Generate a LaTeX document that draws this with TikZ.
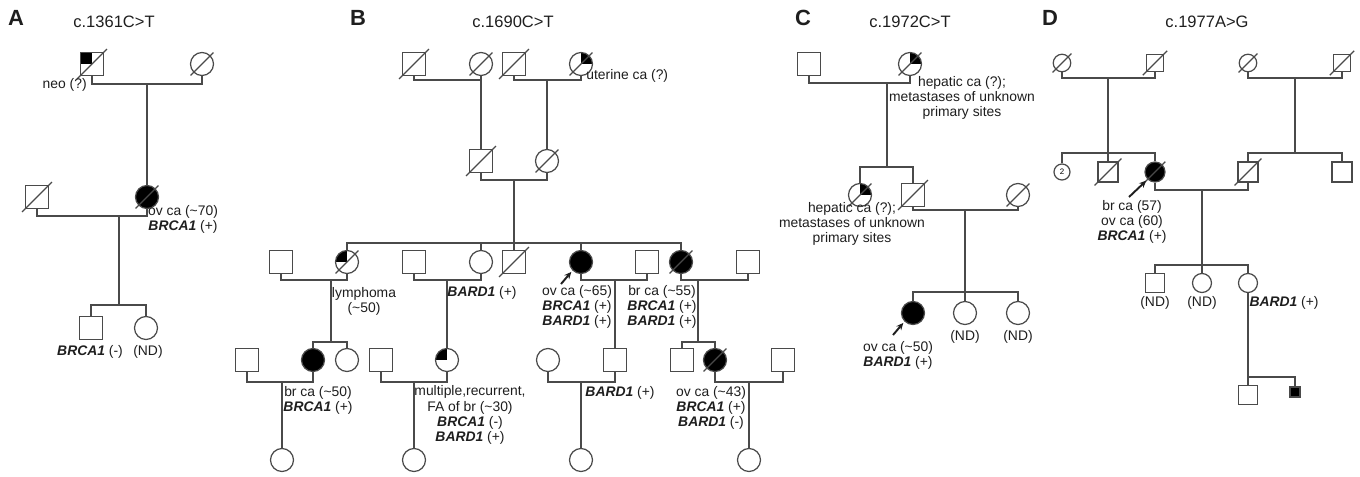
\documentclass[tikz,border=0pt]{standalone}
\usepackage{fontspec}
\setmainfont{Liberation Sans}
\usepackage{tikz}
\usetikzlibrary{arrows.meta}
\definecolor{pedgray}{HTML}{4A4A4A}
\definecolor{pedtext}{HTML}{1E1E1E}
\newcommand{\genesym}[1]{\textbf{\textit{#1}}}
\tikzset{
  person/.style={
    draw=pedgray,
    line width=0.7pt,
    fill=white,
    inner sep=0pt,
    minimum size=0.46cm
  },
  male/.style={person, rectangle},
  female/.style={person, circle},
  affected/.style={fill=black},
  small/.style={minimum size=0.35cm},
  mid/.style={minimum size=0.4cm},
  deceased/.style={
    append after command={(\tikzlastnode.south west) edge[pedslash] (\tikzlastnode.north east)}
  },
  pedslash/.style={
    draw=pedgray,
    line width=0.7pt,
    shorten <=-2.3pt,
    shorten >=-2.3pt
  },
  quadnw/.style={
    path picture={\fill[black] (path picture bounding box.center) rectangle (path picture bounding box.north west);}
  },
  quadne/.style={
    path picture={\fill[black] (path picture bounding box.center) rectangle (path picture bounding box.north east);}
  },
  pedline/.style={
    draw=pedgray,
    line width=0.7pt
  },
  probandarrow/.style={
    -{Stealth[length=4pt,width=3.6pt]},
    line width=1.1pt,
    draw=pedtext,
    shorten >=1pt
  },
  note/.style={
    font=\fontsize{7.9}{8.6}\selectfont,
    text=pedtext,
    inner sep=0pt,
    align=center
  },
  mutation/.style={
    font=\fontsize{9.4}{10}\selectfont,
    text=pedtext,
    inner sep=0pt
  },
  panel/.style={
    font=\fontsize{12.5}{14}\selectfont\bfseries,
    text=pedtext,
    inner sep=0pt
  }
}

\begin{document}
\begin{tikzpicture}[x=0.02cm, y=-0.02cm]
  \useasboundingbox (0,0) rectangle (1360,477);

  % panel A
  \node[panel] (pA) at (16,18) {A};
  \node[mutation] (mutA) at (114,22) {c.1361C>T};
  \node[male, deceased, quadnw] (a1) at (92,64) {};
  \node[female, deceased] (a2) at (202,64) {};
  \node[male, deceased] (a3) at (37,197) {};
  \node[female, affected, deceased] (a4) at (147,197) {};
  \node[male] (a5) at (91,328) {};
  \node[female] (a6) at (146,328) {};
  \coordinate (mA1) at (147,84);
  \coordinate (mA2) at (119,216);
  \coordinate (sA1) at (119,305);
  \draw[pedline] (a1.south) |- (mA1) -| (a2.south);
  \draw[pedline] (mA1) -- (a4.north);
  \draw[pedline] (a3.south) |- (mA2) -| (a4.south);
  \draw[pedline] (mA2) -- (sA1);
  \draw[pedline] (a5.north) |- (sA1) -| (a6.north);
  \node[note, anchor=east] (ta1) at (87,85) {neo (?)};
  \node[note] (ta2) at (183,219) {ov ca (\textasciitilde70)\\\genesym{BRCA1} (+)};
  \node[note] (ta3) at (90,352) {\genesym{BRCA1} (-)};
  \node[note] (ta4) at (148,352) {(ND)};

  % panel B
  \node[panel] (pB) at (358,18) {B};
  \node[mutation] (mutB) at (513,22) {c.1690C>T};
  \node[male, deceased] (b1) at (414,64) {};
  \node[female, deceased] (b2) at (481,64) {};
  \node[male, deceased] (b3) at (514,64) {};
  \node[female, deceased, quadne] (b4) at (581,64) {};
  \node[male, deceased] (b5) at (481,161) {};
  \node[female, deceased] (b6) at (547,161) {};
  \node[male] (b7) at (281,262) {};
  \node[female, deceased, quadnw] (b8) at (347,262) {};
  \node[male] (b9) at (414,262) {};
  \node[female] (b10) at (481,262) {};
  \node[male, deceased] (b11) at (514,262) {};
  \node[female, affected] (b12) at (581,262) {};
  \node[male] (b13) at (647,262) {};
  \node[female, affected, deceased] (b14) at (681,262) {};
  \node[male] (b15) at (748,262) {};
  \node[male] (b16) at (247,360) {};
  \node[female, affected] (b17) at (313,360) {};
  \node[female] (b18) at (347,360) {};
  \node[male] (b19) at (381,360) {};
  \node[female, quadnw] (b20) at (447,360) {};
  \node[female] (b21) at (548,360) {};
  \node[male] (b22) at (615,360) {};
  \node[male] (b23) at (682,360) {};
  \node[female, affected, deceased] (b24) at (715,360) {};
  \node[male] (b25) at (783,360) {};
  \node[female] (b26) at (282,460) {};
  \node[female] (b27) at (414,460) {};
  \node[female] (b28) at (581,460) {};
  \node[female] (b29) at (749,460) {};
  \coordinate (mB1) at (481,80);
  \coordinate (mB2) at (547,80);
  \coordinate (mB3) at (514,180);
  \coordinate (sB1) at (514,243);
  \coordinate (mB4) at (331,280);
  \coordinate (mB5) at (447,280);
  \coordinate (mB6) at (615,280);
  \coordinate (mB7) at (698,280);
  \coordinate (sB2) at (331,342);
  \coordinate (sB3) at (698,342);
  \coordinate (mB8) at (282,382);
  \coordinate (mB9) at (414,382);
  \coordinate (mB10) at (581,382);
  \coordinate (mB11) at (749,382);
  \draw[pedline] (b1.south) |- (mB1) -| (b2.south);
  \draw[pedline] (mB1) -- (b5.north);
  \draw[pedline] (b3.south) |- (mB2) -| (b4.south);
  \draw[pedline] (mB2) -- (b6.north);
  \draw[pedline] (b5.south) |- (mB3) -| (b6.south);
  \draw[pedline] (mB3) -- (sB1);
  \draw[pedline] (b8.north) |- (sB1) -| (b14.north);
  \draw[pedline] (sB1 -| b10.north) -- (b10.north);
  \draw[pedline] (sB1) -- (b11.north);
  \draw[pedline] (sB1 -| b12.north) -- (b12.north);
  \draw[pedline] (b7.south) |- (mB4) -| (b8.south);
  \draw[pedline] (b9.south) |- (mB5) -| (b10.south);
  \draw[pedline] (b12.south) |- (mB6) -| (b13.south);
  \draw[pedline] (b14.south) |- (mB7) -| (b15.south);
  \draw[pedline] (mB4) -- (sB2);
  \draw[pedline] (b17.north) |- (sB2) -| (b18.north);
  \draw[pedline] (mB5) -- (b20.north);
  \draw[pedline] (mB6) -- (b22.north);
  \draw[pedline] (mB7) -- (sB3);
  \draw[pedline] (b23.north) |- (sB3) -| (b24.north);
  \draw[pedline] (b16.south) |- (mB8) -| (b17.south);
  \draw[pedline] (b19.south) |- (mB9) -| (b20.south);
  \draw[pedline] (b21.south) |- (mB10) -| (b22.south);
  \draw[pedline] (b24.south) |- (mB11) -| (b25.south);
  \draw[pedline] (mB8) -- (b26.north);
  \draw[pedline] (mB9) -- (b27.north);
  \draw[pedline] (mB10) -- (b28.north);
  \draw[pedline] (mB11) -- (b29.north);
  \coordinate (arrB) at (561,284);
  \draw[probandarrow] (arrB) -- (b12.south west);
  \node[note, anchor=west] (tb1) at (586,76) {uterine ca (?)};
  \node[note] (tb2) at (364,301) {lymphoma\\(\textasciitilde50)};
  \node[note] (tb3) at (482,293) {\genesym{BARD1} (+)};
  \node[note] (tb4) at (577,307) {ov ca (\textasciitilde65)\\\genesym{BRCA1} (+)\\\genesym{BARD1} (+)};
  \node[note] (tb5) at (662,307) {br ca (\textasciitilde55)\\\genesym{BRCA1} (+)\\\genesym{BARD1} (+)};
  \node[note] (tb6) at (318,400) {br ca (\textasciitilde50)\\\genesym{BRCA1} (+)};
  \node[note] (tb7) at (470,415) {multiple,recurrent,\\FA of br (\textasciitilde30)\\\genesym{BRCA1} (-)\\\genesym{BARD1} (+)};
  \node[note] (tb8) at (620,393) {\genesym{BARD1} (+)};
  \node[note] (tb9) at (711,408) {ov ca (\textasciitilde43)\\\genesym{BRCA1} (+)\\\genesym{BARD1} (-)};

  % panel C
  \node[panel] (pC) at (803,18) {C};
  \node[mutation] (mutC) at (910,22) {c.1972C>T};
  \node[male] (c1) at (809,64) {};
  \node[female, deceased, quadne] (c2) at (910,64) {};
  \node[female, deceased, quadne] (c3) at (860,195) {};
  \node[male, deceased] (c4) at (913,195) {};
  \node[female, deceased] (c5) at (1018,195) {};
  \node[female, affected] (c6) at (913,313) {};
  \node[female] (c7) at (965,313) {};
  \node[female] (c8) at (1018,313) {};
  \coordinate (mC1) at (887,83);
  \coordinate (sC1) at (887,167);
  \coordinate (mC2) at (965,210);
  \coordinate (sC2) at (965,292);
  \draw[pedline] (c1.south) |- (mC1) -| (c2.south);
  \draw[pedline] (mC1) -- (sC1);
  \draw[pedline] (c3.north) |- (sC1) -| (c4.north);
  \draw[pedline] (c4.south) |- (mC2) -| (c5.south);
  \draw[pedline] (mC2) -- (sC2);
  \draw[pedline] (c6.north) |- (sC2) -| (c8.north);
  \draw[pedline] (sC2) -- (c7.north);
  \coordinate (arrC) at (893,335);
  \draw[probandarrow] (arrC) -- (c6.south west);
  \node[note] (tc1) at (962,98) {hepatic ca (?);\\metastases of unknown\\primary sites};
  \node[note] (tc2) at (852,224) {hepatic ca (?);\\metastases of unknown\\primary sites};
  \node[note] (tc3) at (965,337) {(ND)};
  \node[note] (tc4) at (1018,337) {(ND)};
  \node[note] (tc5) at (898,355) {ov ca (\textasciitilde50)\\\genesym{BARD1} (+)};

  % panel D
  \node[panel] (pD) at (1050,18) {D};
  \node[mutation] (mutD) at (1207,22) {c.1977A>G};
  \node[female, small, deceased] (d1) at (1062,63) {};
  \node[male, small, deceased] (d2) at (1155,63) {};
  \node[female, small, deceased] (d3) at (1248,63) {};
  \node[male, small, deceased] (d4) at (1342,63) {};
  \node[female, minimum size=0.32cm, font=\fontsize{4.5}{5}\selectfont] (d5) at (1062,172) {2};
  \node[male, mid, deceased] (d6) at (1108,172) {};
  \node[female, mid, affected, deceased] (d7) at (1155,172) {};
  \node[male, mid, deceased] (d8) at (1248,172) {};
  \node[male, mid] (d9) at (1342,172) {};
  \node[male, minimum size=0.38cm] (d10) at (1155,283) {};
  \node[female, minimum size=0.38cm] (d11) at (1202,283) {};
  \node[female, minimum size=0.38cm] (d12) at (1248,283) {};
  \node[male, minimum size=0.38cm] (d13) at (1248,395) {};
  \node[male, affected, minimum size=0.2cm] (d14) at (1295,392) {};
  \coordinate (mD1) at (1108,78);
  \coordinate (mD2) at (1295,78);
  \coordinate (sD1) at (1108,153);
  \coordinate (sD2) at (1295,153);
  \coordinate (mD3) at (1202,190);
  \coordinate (sD3) at (1202,265);
  \coordinate (sD4) at (1248,377);
  \draw[pedline] (d1.south) |- (mD1) -| (d2.south);
  \draw[pedline] (d3.south) |- (mD2) -| (d4.south);
  \draw[pedline] (mD1) -- (d6.north);
  \draw[pedline] (mD2) -- (sD2);
  \draw[pedline] (d5.north) |- (sD1) -| (d7.north);
  \draw[pedline] (d8.north) |- (sD2) -| (d9.north);
  \draw[pedline] (d7.south) |- (mD3) -| (d8.south);
  \draw[pedline] (mD3) -- (d11.north);
  \draw[pedline] (d10.north) |- (sD3) -| (d12.north);
  \draw[pedline] (d12.south) -- (d13.north);
  \draw[pedline] (sD4) -| (d14.north);
  \coordinate (arrD) at (1129,197);
  \draw[probandarrow] (arrD) -- (d7.south west);
  \node[note] (td1) at (1132,222) {br ca (57)\\ov ca (60)\\\genesym{BRCA1} (+)};
  \node[note] (td2) at (1155,303) {(ND)};
  \node[note] (td3) at (1202,303) {(ND)};
  \node[note] (td4) at (1284,303) {\genesym{BARD1} (+)};
\end{tikzpicture}
\end{document}
